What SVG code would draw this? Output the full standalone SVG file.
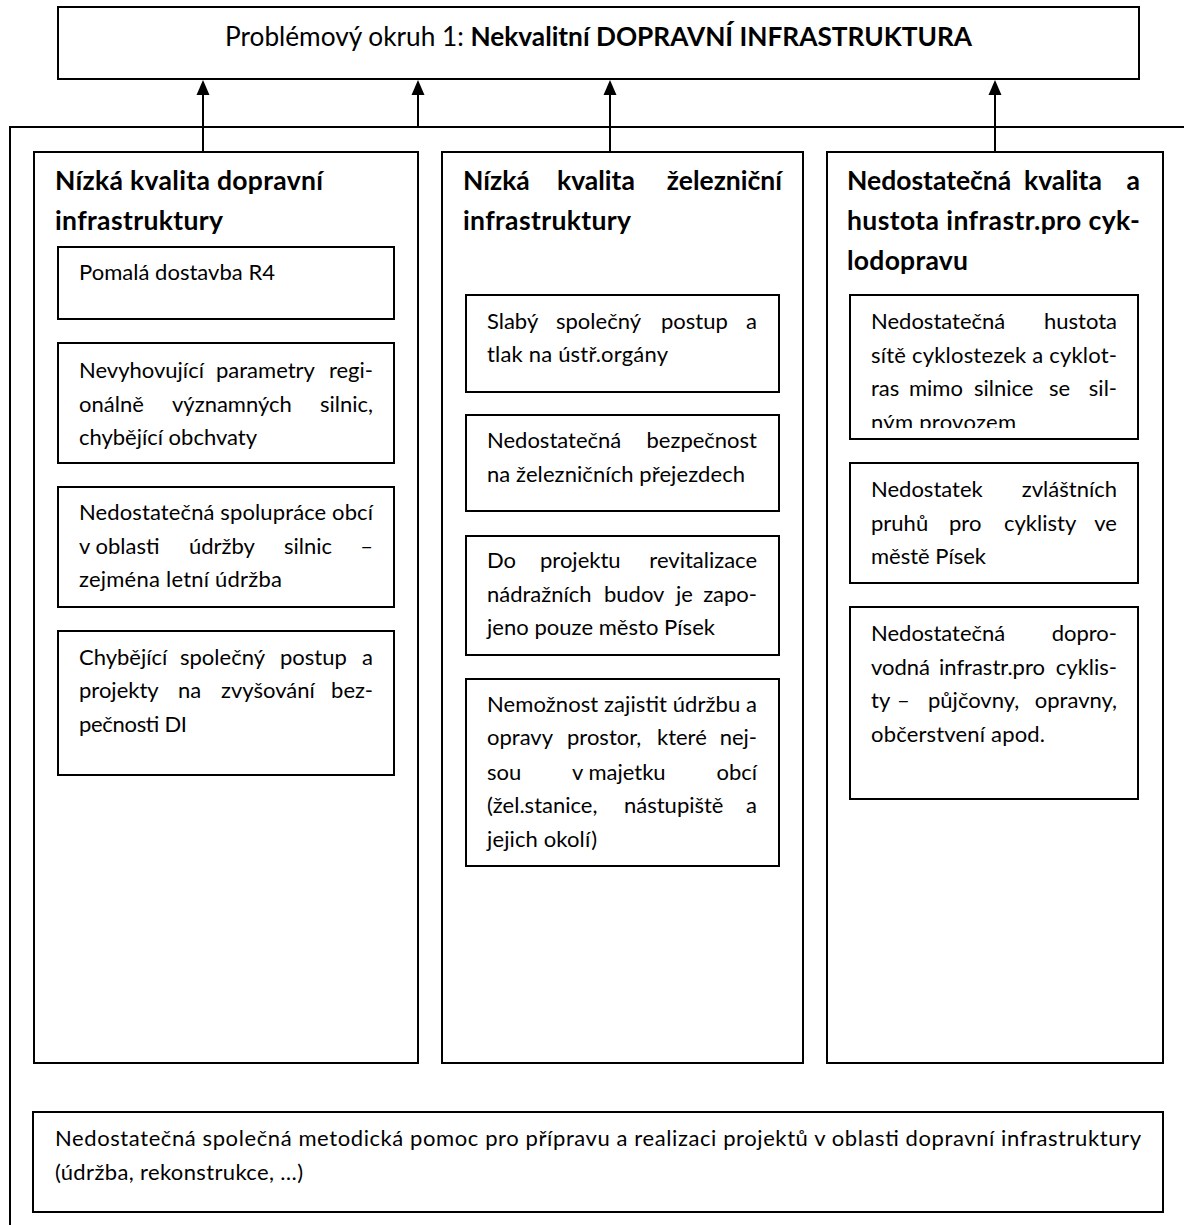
<svg xmlns="http://www.w3.org/2000/svg" width="1184" height="1225" viewBox="0 0 1184 1225">
<style>
.box{fill:#fff;stroke:#000;stroke-width:2}
.t{font-family:Lato,"Liberation Sans",sans-serif;font-size:22px;fill:#000}
.h{font-family:Lato,"Liberation Sans",sans-serif;font-size:26.5px;font-weight:bold;fill:#000}
.ti{font-family:Lato,"Liberation Sans",sans-serif;font-size:27px;fill:#000}
.conn{stroke:#000;stroke-width:2;fill:none}
.arr{stroke:#000;stroke-width:2;fill:none;marker-end:url(#ah)}
</style>
<defs>
<marker id="ah" markerUnits="userSpaceOnUse" markerWidth="16" markerHeight="14" refX="0" refY="6.5" orient="auto" viewBox="0 0 16 13">
<path d="M0,0 L15,6.5 L0,13 z" fill="#000"/>
</marker>
<clipPath id="clip3"><rect x="850" y="295" width="288" height="133"/></clipPath>
</defs>
<rect width="1184" height="1225" fill="#fff"/>

<g id="connectors">
<path class="conn" d="M10,1225 V127 H1184"/>
<line class="arr" x1="203" y1="152" x2="203" y2="95"/>
<line class="arr" x1="418" y1="127" x2="418" y2="95"/>
<line class="arr" x1="610" y1="152" x2="610" y2="95"/>
<line class="arr" x1="995" y1="152" x2="995" y2="95"/>
</g>

<g id="top">
<rect class="box" x="58" y="7" width="1081" height="72"/>
<text class="ti" x="225" y="46" textLength="747" lengthAdjust="spacingAndGlyphs">Problémový okruh 1: <tspan font-weight="bold">Nekvalitní DOPRAVNÍ INFRASTRUKTURA</tspan></text>
</g>

<g id="col1">
<rect class="box" x="34" y="152" width="384" height="911"/>
<text class="h" x="55" y="190" textLength="268">Nízká kvalita dopravní</text>
<text class="h" x="55" y="230" textLength="168">infrastruktury</text>
</g>
<g id="col1-b1">
<rect class="box" x="58" y="247" width="336" height="72"/>
<text class="t" x="79" y="280" textLength="196">Pomalá dostavba R4</text>
</g>
<g id="col1-b2">
<rect class="box" x="58" y="343" width="336" height="120"/>
<text class="t" y="378"><tspan x="79">Nevyhovující</tspan><tspan x="216">parametry</tspan><tspan x="373" text-anchor="end">regi-</tspan></text>
<text class="t" y="412"><tspan x="79">onálně</tspan><tspan x="172">významných</tspan><tspan x="373" text-anchor="end">silnic,</tspan></text>
<text class="t" x="79" y="445" textLength="178">chybějící obchvaty</text>
</g>
<g id="col1-b3">
<rect class="box" x="58" y="487" width="336" height="120"/>
<text class="t" x="79" y="520" textLength="294">Nedostatečná spolupráce obcí</text>
<text class="t" y="554"><tspan x="79">v oblasti</tspan><tspan x="189">údržby</tspan><tspan x="284">silnic</tspan><tspan x="373" text-anchor="end">–</tspan></text>
<text class="t" x="79" y="587" textLength="203">zejména letní údržba</text>
</g>
<g id="col1-b4">
<rect class="box" x="58" y="631" width="336" height="144"/>
<text class="t" y="665"><tspan x="79">Chybějící</tspan><tspan x="180">společný</tspan><tspan x="280">postup</tspan><tspan x="373" text-anchor="end">a</tspan></text>
<text class="t" y="698"><tspan x="79">projekty</tspan><tspan x="178">na</tspan><tspan x="221">zvyšování</tspan><tspan x="373" text-anchor="end">bez-</tspan></text>
<text class="t" x="79" y="732" textLength="108">pečnosti DI</text>
</g>

<g id="col2">
<rect class="box" x="442" y="152" width="361" height="911"/>
<text class="h" y="190"><tspan x="463">Nízká</tspan><tspan x="557">kvalita</tspan><tspan x="782" text-anchor="end">železniční</tspan></text>
<text class="h" x="463" y="230" textLength="168">infrastruktury</text>
</g>
<g id="col2-b1">
<rect class="box" x="466" y="295" width="313" height="97"/>
<text class="t" y="329"><tspan x="487">Slabý</tspan><tspan x="556">společný</tspan><tspan x="661">postup</tspan><tspan x="757" text-anchor="end">a</tspan></text>
<text class="t" x="487" y="362" textLength="181">tlak na ústř.orgány</text>
</g>
<g id="col2-b2">
<rect class="box" x="466" y="415" width="313" height="96"/>
<text class="t" y="448"><tspan x="487">Nedostatečná</tspan><tspan x="757" text-anchor="end">bezpečnost</tspan></text>
<text class="t" x="487" y="482" textLength="258">na železničních přejezdech</text>
</g>
<g id="col2-b3">
<rect class="box" x="466" y="536" width="313" height="119"/>
<text class="t" y="568"><tspan x="487">Do</tspan><tspan x="540">projektu</tspan><tspan x="757" text-anchor="end">revitalizace</tspan></text>
<text class="t" y="602"><tspan x="487">nádražních</tspan><tspan x="604">budov</tspan><tspan x="676">je</tspan><tspan x="757" text-anchor="end">zapo-</tspan></text>
<text class="t" x="487" y="635" textLength="228">jeno pouze město Písek</text>
</g>
<g id="col2-b4">
<rect class="box" x="466" y="679" width="313" height="187"/>
<text class="t" x="487" y="712" textLength="270">Nemožnost zajistit údržbu a</text>
<text class="t" y="745"><tspan x="487">opravy</tspan><tspan x="567">prostor,</tspan><tspan x="657">které</tspan><tspan x="757" text-anchor="end">nej-</tspan></text>
<text class="t" y="780"><tspan x="487">sou</tspan><tspan x="572">v majetku</tspan><tspan x="757" text-anchor="end">obcí</tspan></text>
<text class="t" y="813"><tspan x="487">(žel.stanice,</tspan><tspan x="624">nástupiště</tspan><tspan x="757" text-anchor="end">a</tspan></text>
<text class="t" x="487" y="847" textLength="110">jejich okolí)</text>
</g>

<g id="col3">
<rect class="box" x="827" y="152" width="336" height="911"/>
<text class="h" y="190"><tspan x="847">Nedostatečná</tspan><tspan x="1024">kvalita</tspan><tspan x="1140" text-anchor="end">a</tspan></text>
<text class="h" x="847" y="230" textLength="293">hustota infrastr.pro cyk-</text>
<text class="h" x="847" y="270" textLength="121">lodopravu</text>
</g>
<g id="col3-b1">
<rect class="box" x="850" y="295" width="288" height="144"/>
<g clip-path="url(#clip3)">
<text class="t" y="329"><tspan x="871">Nedostatečná</tspan><tspan x="1117" text-anchor="end">hustota</tspan></text>
<text class="t" x="871" y="363" textLength="246">sítě cyklostezek a cyklot-</text>
<text class="t" y="396"><tspan x="871">ras</tspan><tspan x="909">mimo</tspan><tspan x="974">silnice</tspan><tspan x="1049">se</tspan><tspan x="1117" text-anchor="end">sil-</tspan></text>
<text class="t" x="871" y="430" textLength="145">ným provozem</text>
</g>
</g>
<g id="col3-b2">
<rect class="box" x="850" y="463" width="288" height="120"/>
<text class="t" y="497"><tspan x="871">Nedostatek</tspan><tspan x="1117" text-anchor="end">zvláštních</tspan></text>
<text class="t" y="531"><tspan x="871">pruhů</tspan><tspan x="949">pro</tspan><tspan x="1004">cyklisty</tspan><tspan x="1117" text-anchor="end">ve</tspan></text>
<text class="t" x="871" y="564" textLength="115">městě Písek</text>
</g>
<g id="col3-b3">
<rect class="box" x="850" y="607" width="288" height="192"/>
<text class="t" y="641"><tspan x="871">Nedostatečná</tspan><tspan x="1117" text-anchor="end">dopro-</tspan></text>
<text class="t" y="675"><tspan x="871">vodná</tspan><tspan x="939">infrastr.pro</tspan><tspan x="1117" text-anchor="end">cyklis-</tspan></text>
<text class="t" y="708"><tspan x="871">ty</tspan><tspan x="897">–</tspan><tspan x="928">půjčovny,</tspan><tspan x="1117" text-anchor="end">opravny,</tspan></text>
<text class="t" x="871" y="742" textLength="174">občerstvení apod.</text>
</g>

<g id="bottom">
<rect class="box" x="33" y="1112" width="1130" height="100"/>
<text class="t" x="55" y="1146" textLength="1086">Nedostatečná společná metodická pomoc pro přípravu a realizaci projektů v oblasti dopravní infrastruktury</text>
<text class="t" x="55" y="1180" textLength="248">(údržba, rekonstrukce, …)</text>
</g>
</svg>
